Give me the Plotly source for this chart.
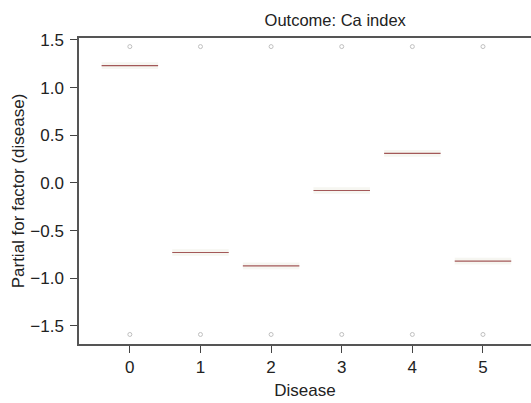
import plotly.graph_objects as go

categories = [0, 1, 2, 3, 4, 5]
partial = [1.23, -0.73, -0.87, -0.08, 0.31, -0.82]
rug_top = [1.43, 1.43, 1.43, 1.43, 1.43, 1.43]
rug_bottom = [-1.59, -1.59, -1.59, -1.59, -1.59, -1.59]
tick_vals = [-1.5, -1.0, -0.5, 0.0, 0.5, 1.0, 1.5]
tick_text = ["\u22121.5", "\u22121.0", "\u22120.5", "0.0", "0.5", "1.0", "1.5"]

HW = 0.4
BAND = 0.035

fig = go.Figure()

for c, v in zip(categories, partial):
    fig.add_trace(go.Scatter(
        x=[c - HW, c + HW, c + HW, c - HW, c - HW],
        y=[v - BAND, v - BAND, v + BAND, v + BAND, v - BAND],
        fill="toself", fillcolor="rgba(235,235,225,0.45)",
        line=dict(width=0), mode="lines", hoverinfo="skip", showlegend=False))
    fig.add_trace(go.Scatter(
        x=[c - HW, c + HW], y=[v, v], mode="lines",
        line=dict(color="#a35858", width=1.2), showlegend=False))

fig.add_trace(go.Scatter(
    x=categories + categories, y=rug_top + rug_bottom, mode="markers",
    marker=dict(symbol="circle-open", size=4, color="#c0c0c0", line=dict(width=1)),
    showlegend=False))

fig.update_layout(
    template="none",
    width=531, height=403,
    margin=dict(l=79, r=0, t=38, b=59, autoexpand=False),
    paper_bgcolor="white", plot_bgcolor="white",
    font=dict(family="Liberation Sans, Arial, sans-serif", size=17, color="#222"),
    title=dict(text="Outcome: Ca index", x=301 / 531, xanchor="center", xref="paper",
               y=1 - 20 / 403, yanchor="middle",
               font=dict(size=16.5, color="#222")),
    xaxis=dict(range=[-0.72, 5.68], tickvals=categories, ticktext=[str(c) for c in categories],
               ticks="outside", ticklen=7, tickwidth=1.2, tickcolor="#444", showgrid=False,
               zeroline=False, automargin=False,
               showline=True, linecolor="#555", linewidth=1.5, mirror=True,
               tickfont=dict(size=17),
               title=dict(text="Disease", standoff=8, font=dict(size=17))),
    yaxis=dict(range=[-1.69, 1.52], tickvals=tick_vals, ticktext=tick_text,
               ticks="outside", ticklen=7, tickwidth=1.2, tickcolor="#444", showgrid=False,
               zeroline=False, automargin=False, ticklabelstandoff=3,
               showline=True, linecolor="#555", linewidth=1.5,
               tickfont=dict(size=17),
               title=dict(text="Partial for factor (disease)", standoff=1, font=dict(size=17))),
)

fig.write_html("out.html")
